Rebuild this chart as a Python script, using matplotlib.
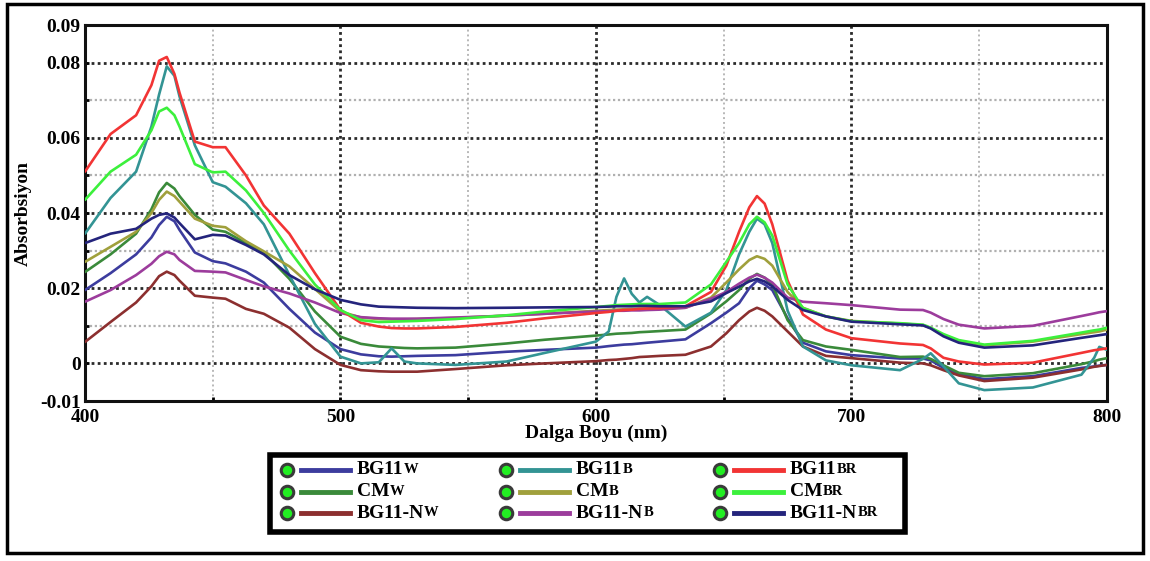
import matplotlib
matplotlib.use("Agg")
import matplotlib.pyplot as plt
from matplotlib.patches import Rectangle
from matplotlib.lines import Line2D

# wavelength grid (nm) shared by all spectra
wavelength = [400, 410, 420, 426, 429, 432, 435, 437, 443, 450, 455, 463, 470,
              480, 490, 500, 508, 515, 520, 525, 530, 545, 565, 580, 600, 605,
              608, 611, 614, 617, 620, 625, 635, 645, 651, 656, 660, 663, 666,
              669, 675, 681, 690, 700, 719, 728, 731, 736, 742, 752, 771, 790,
              795, 797, 800]

bg11_w = [0.0195, 0.024, 0.029, 0.0335, 0.0368, 0.039, 0.0378, 0.0355, 0.0295,
          0.0272, 0.0266, 0.0244, 0.0215, 0.0145, 0.0082, 0.0038, 0.0024, 0.0019,
          0.0018, 0.0019, 0.002, 0.0022, 0.0031, 0.0036, 0.0042, 0.0046, 0.0048,
          0.005, 0.0051, 0.0053, 0.0055, 0.0058, 0.0064, 0.0107, 0.0135, 0.016,
          0.020, 0.022, 0.021, 0.0195, 0.012, 0.0055, 0.0032, 0.0022, 0.0013,
          0.0013, 0.0008, -0.0012, -0.0028, -0.0042, -0.0034, -0.0012, -0.0008,
          -0.0006, -0.0004]

bg11_b = [0.0345, 0.044, 0.051, 0.063, 0.0715, 0.079, 0.0765, 0.071, 0.058,
          0.0482, 0.047, 0.0426, 0.037, 0.0235, 0.0105, 0.0018, 0.0, 0.0003,
          0.004, 0.0005, 0.0, -0.0004, 0.0005, 0.0028, 0.0058, 0.0085, 0.0177,
          0.0226, 0.0185, 0.0162, 0.0177, 0.0155, 0.0098, 0.0135, 0.0195, 0.029,
          0.035, 0.0385, 0.037, 0.032, 0.014, 0.0045, 0.0008, -0.0005, -0.0018,
          0.0012, 0.0027, -0.0008, -0.0053, -0.0071, -0.0064, -0.003, 0.0015,
          0.0044, 0.0036]

bg11_br = [0.051, 0.061, 0.066, 0.074, 0.0805, 0.0815, 0.077, 0.072, 0.059,
           0.0575, 0.0575, 0.050, 0.042, 0.0345, 0.024, 0.0142, 0.0108, 0.0098,
           0.0094, 0.0093, 0.0093, 0.0097, 0.0108, 0.012, 0.0134, 0.0137, 0.014,
           0.0142, 0.0143, 0.0145, 0.0146, 0.0147, 0.0152, 0.019, 0.026, 0.035,
           0.0415, 0.0445, 0.0425, 0.037, 0.022, 0.013, 0.009, 0.0067, 0.0053,
           0.0049, 0.004, 0.0015, 0.0005, -0.0003, 0.0002, 0.0028, 0.0035,
           0.0037, 0.004]

cm_w = [0.0243, 0.029, 0.0345, 0.041, 0.0455, 0.048, 0.0465, 0.0445, 0.0395,
        0.0356, 0.035, 0.032, 0.0295, 0.0225, 0.0138, 0.0071, 0.0052, 0.0045,
        0.0043, 0.0041, 0.004, 0.0042, 0.0053, 0.0063, 0.0074, 0.0077, 0.0079,
        0.008, 0.0081, 0.0083, 0.0084, 0.0086, 0.009, 0.0133, 0.0165, 0.0195,
        0.0225, 0.0238, 0.0228, 0.021, 0.0115, 0.0062, 0.0045, 0.0036, 0.0017,
        0.0018, 0.0012, -0.0005, -0.0025, -0.0034, -0.0026, -0.0002, 0.0006,
        0.001, 0.0014]

cm_b = [0.027, 0.031, 0.035, 0.040, 0.0435, 0.0457, 0.0445, 0.043, 0.0385,
        0.0366, 0.0362, 0.0325, 0.0298, 0.0258, 0.0198, 0.0138, 0.0122, 0.0118,
        0.0117, 0.0117, 0.0118, 0.0121, 0.0127, 0.0132, 0.014, 0.0142, 0.0143,
        0.0144, 0.0145, 0.0146, 0.0146, 0.0146, 0.0148, 0.0175, 0.0215, 0.025,
        0.0275, 0.0285, 0.0278, 0.026, 0.019, 0.0148, 0.0125, 0.0113, 0.0106,
        0.0102, 0.0094, 0.0075, 0.006, 0.0048, 0.0058, 0.0078, 0.0083, 0.0085,
        0.009]

cm_br = [0.0435, 0.051, 0.0555, 0.062, 0.067, 0.068, 0.066, 0.063, 0.053,
         0.0508, 0.051, 0.046, 0.040, 0.030, 0.021, 0.0142, 0.0115, 0.011,
         0.0111, 0.0112, 0.0113, 0.0118, 0.0128, 0.0138, 0.015, 0.0153, 0.0155,
         0.0156, 0.0157, 0.0158, 0.0158, 0.0158, 0.0162, 0.021, 0.027, 0.032,
         0.037, 0.039, 0.0375, 0.034, 0.021, 0.0147, 0.0125, 0.0112, 0.0107,
         0.0103, 0.0095, 0.0078, 0.0062, 0.005, 0.006, 0.0082, 0.0088, 0.009,
         0.0095]

bg11n_w = [0.0057, 0.011, 0.0162, 0.0205, 0.0232, 0.0244, 0.0235, 0.022, 0.018,
           0.0175, 0.0172, 0.0145, 0.0132, 0.0095, 0.0038, -0.0004, -0.0018,
           -0.0021, -0.0022, -0.0022, -0.0022, -0.0015, -0.0005, 0.0, 0.0006,
           0.0009, 0.001, 0.0012, 0.0014, 0.0017, 0.0018, 0.002, 0.0023, 0.0045,
           0.008, 0.0115, 0.0138, 0.0148, 0.014, 0.0125, 0.0085, 0.0045, 0.002,
           0.0014, 0.0002, 0.0, -0.0005, -0.0018, -0.0032, -0.0047, -0.0038,
           -0.0016, -0.0009, -0.0007, -0.0004]

bg11n_b = [0.0164, 0.0195, 0.0235, 0.0265, 0.0285, 0.0297, 0.029, 0.0275, 0.0246,
           0.0244, 0.0242, 0.0222, 0.0205, 0.0186, 0.0162, 0.0134, 0.0123, 0.012,
           0.0119, 0.0119, 0.0119, 0.0122, 0.0127, 0.0132, 0.0138, 0.0139, 0.014,
           0.014, 0.0141, 0.0141, 0.0142, 0.0143, 0.0148, 0.0172, 0.019, 0.0212,
           0.0228, 0.0236, 0.0228, 0.0215, 0.0175, 0.0164, 0.016, 0.0155, 0.0143,
           0.0142, 0.0135, 0.0118, 0.0103, 0.0093, 0.0100, 0.0126, 0.0133,
           0.0136, 0.0139]

bg11n_br = [0.032, 0.0345, 0.0358, 0.0385, 0.0395, 0.0399, 0.0388, 0.0373, 0.033,
            0.0342, 0.034, 0.0315, 0.029, 0.0235, 0.0197, 0.0169, 0.0157, 0.0151,
            0.015, 0.0149, 0.0148, 0.0147, 0.0148, 0.0149, 0.015, 0.0151, 0.0152,
            0.0152, 0.0152, 0.0153, 0.0153, 0.0152, 0.0152, 0.0165, 0.0187,
            0.0204, 0.0218, 0.0225, 0.0218, 0.0205, 0.0169, 0.0142, 0.0125,
            0.0111, 0.0104, 0.0101, 0.0093, 0.0072, 0.0055, 0.0042, 0.0048,
            0.0068, 0.0073, 0.0075, 0.0078]

# (main text, small-caps suffix, colour, values) in legend order, column by column
series = [
    ("BG11", "W", "#3c3c9e", bg11_w),
    ("CM", "W", "#3a8a3a", cm_w),
    ("BG11-N", "W", "#8c2f2f", bg11n_w),
    ("BG11", "B", "#339494", bg11_b),
    ("CM", "B", "#a0a03c", cm_b),
    ("BG11-N", "B", "#9c3c9c", bg11n_b),
    ("BG11", "BR", "#f23434", bg11_br),
    ("CM", "BR", "#3cf03c", cm_br),
    ("BG11-N", "BR", "#24247c", bg11n_br),
]

plt.rcParams["font.family"] = "Liberation Serif"
plt.rcParams["font.weight"] = "bold"

fig = plt.figure(figsize=(11.5, 5.61), dpi=100)
ax = fig.add_axes([0.0739, 0.2852, 0.8887, 0.6702])

# dotted grid: dark at major positions, light at the halves
for y in [0.0, 0.02, 0.04, 0.06, 0.08]:
    ax.axhline(y, color="#2a2a2a", lw=2.0, ls=(0, (1, 1.2)), zorder=1)
for y in [0.01, 0.03, 0.05, 0.07]:
    ax.axhline(y, color="#b0b0b0", lw=1.6, ls=(0, (1, 1.2)), zorder=1)
for x in [500, 600, 700]:
    ax.axvline(x, color="#2a2a2a", lw=2.0, ls=(0, (1, 1.2)), zorder=1)
for x in [450, 550, 650, 750]:
    ax.axvline(x, color="#b8b8b8", lw=1.4, ls=(0, (1, 1.5)), zorder=1)

for name, sub, color, vals in series:
    ax.plot(wavelength, vals, color=color, lw=1.9, zorder=3,
            solid_joinstyle="round", solid_capstyle="round")

ax.set_xlim(400, 800)
ax.set_ylim(-0.01, 0.09)
ax.set_xticks([400, 500, 600, 700, 800])
ax.set_xticks([450, 550, 650, 750], minor=True)
ax.set_yticks([-0.01, 0, 0.02, 0.04, 0.06, 0.08, 0.09])
ax.set_yticklabels(["-0.01", "0", "0.02", "0.04", "0.06", "0.08", "0.09"])
ax.set_yticks([0.01, 0.03, 0.05, 0.07], minor=True)
ax.tick_params(which="both", direction="in", length=3, width=2, labelsize=14)
ax.tick_params(axis="x", pad=6)
ax.tick_params(axis="y", pad=3)
for sp in ax.spines.values():
    sp.set_linewidth(2.2)
    sp.set_color("#111111")

ax.set_xlabel("Dalga Boyu (nm)", fontsize=14, fontweight="bold", labelpad=-1)
ax.set_ylabel("Absorbsiyon", fontsize=14, fontweight="bold", labelpad=6)

# outer frame around the whole figure
fig.patches.append(Rectangle((0.006, 0.014), 0.988, 0.979, transform=fig.transFigure,
                             fill=False, edgecolor="black", lw=2.5))

# legend panel drawn by hand in figure pixels
W, H = 1150, 561
fig.patches.append(Rectangle((270 / W, 1 - 532 / H), 635 / W, 77 / H,
                             transform=fig.transFigure, fill=False,
                             edgecolor="black", lw=4))
col_x = [287, 506, 720]
row_y = [470, 492, 513]
for i, (name, sub, color, vals) in enumerate(series):
    cx = col_x[i // 3]
    ry = 1 - row_y[i % 3] / H
    fig.add_artist(Line2D([cx / W], [ry], marker="o", ms=9, mfc="#22ee22",
                          mec="#3a3a3a", mew=2.2, transform=fig.transFigure))
    fig.add_artist(Line2D([(cx + 14) / W, (cx + 63) / W], [ry, ry], color=color,
                          lw=3.5, transform=fig.transFigure))
    t = fig.text((cx + 70) / W, ry, name, fontsize=14, fontweight="bold",
                 va="center", ha="left")
    fig.canvas.draw()
    bb = t.get_window_extent()
    fig.text(bb.x1 / W, bb.y0 / H + 0.004, sub, fontsize=10.5, fontweight="bold",
             va="bottom", ha="left")

fig.savefig("out.png", dpi=100, facecolor="white")
